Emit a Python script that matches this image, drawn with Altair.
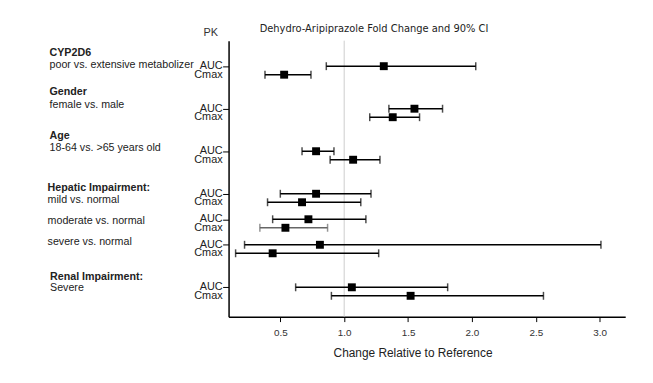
import altair as alt
import pandas as pd

# ---- data ----
comparisons = ["CYP2D6", "Gender", "Age", "Hepatic mild", "Hepatic moderate",
               "Hepatic severe", "Renal severe"]
auc_est = [1.31, 1.55, 0.78, 0.78, 0.72, 0.81, 1.06]
auc_lo = [0.86, 1.35, 0.67, 0.50, 0.44, 0.22, 0.62]
auc_hi = [2.03, 1.77, 0.92, 1.21, 1.17, 3.01, 1.81]
cmax_est = [0.53, 1.38, 1.07, 0.67, 0.54, 0.44, 1.52]
cmax_lo = [0.38, 1.20, 0.89, 0.40, 0.34, 0.15, 0.90]
cmax_hi = [0.74, 1.59, 1.28, 1.13, 0.87, 1.27, 2.56]

label_texts = ["CYP2D6", "poor vs. extensive metabolizer",
               "Gender", "female vs. male",
               "Age", "18-64 vs. >65 years old",
               "Hepatic Impairment:", "mild vs. normal",
               "moderate vs. normal", "severe vs. normal",
               "Renal Impairment:", "Severe"]
label_bold = [True, False, True, False, True, False, True, False, False, False, True, False]
x_ticks = [0.5, 1.0, 1.5, 2.0, 2.5, 3.0]

# ---- layout (row slots on the vertical axis) ----
auc_slot = [3, 8, 13, 18, 21, 24, 29]
label_slot = [1.40, 2.83, 6.06, 7.57, 11.22, 12.58, 17.27, 18.75, 21.17, 23.68, 27.8, 29.12]
label_px = [-181, -181, -181, -181, -181, -181, -183, -183, -183, -183, -180.5, -180.5]

rows = []
for i, c in enumerate(comparisons):
    rows.append(dict(comp=c, pk="AUC", slot=auc_slot[i], est=auc_est[i], lo=auc_lo[i], hi=auc_hi[i]))
    rows.append(dict(comp=c, pk="Cmax", slot=auc_slot[i] + 1, est=cmax_est[i], lo=cmax_lo[i], hi=cmax_hi[i]))
df = pd.DataFrame(rows)

labels = pd.DataFrame(dict(text=label_texts, slot=label_slot, bold=label_bold, px=label_px))

FONT = "Liberation Sans"
xscale = alt.Scale(domain=[0.095, 3.2], nice=False, zero=False)
yscale = alt.Scale(domain=[0, 32.45], reverse=True, nice=False, zero=False)

xaxis = alt.Axis(values=x_ticks, format=".1f", title="Change Relative to Reference",
                 grid=False, domainColor="black", domainWidth=1.5, tickColor="black",
                 tickSize=5, tickWidth=1, labelFont=FONT, labelFontSize=10, labelColor="#333",
                 labelPadding=6, titleFont=FONT, titleFontSize=12, titleFontWeight="normal",
                 titleColor="#222", titlePadding=10, titleX=186)
yaxis = alt.Axis(values=[float(s) for s in df["slot"]], labels=False, title=None, grid=False,
                 domainColor="black", domainWidth=1.5, tickColor="black", tickSize=6, tickWidth=1)

base = alt.Chart(df)
faint = "datum.comp == 'Hepatic moderate' && datum.pk == 'Cmax'"
line_color = alt.condition(faint, alt.value("#666666"), alt.value("black"))

refline = alt.Chart(pd.DataFrame({"v": [1.0]})).mark_rule(color="#cccccc", strokeWidth=1).encode(
    x=alt.X("v:Q", scale=xscale, axis=xaxis))

bars = base.mark_rule(strokeWidth=1.5).encode(
    x=alt.X("lo:Q", scale=xscale, axis=xaxis), x2="hi:Q",
    y=alt.Y("slot:Q", scale=yscale, axis=yaxis), color=line_color)

cap_lo = base.mark_tick(orient="vertical", size=8, thickness=1.5).encode(
    x=alt.X("lo:Q", scale=xscale), y=alt.Y("slot:Q", scale=yscale), color=line_color)
cap_hi = base.mark_tick(orient="vertical", size=8, thickness=1.5).encode(
    x=alt.X("hi:Q", scale=xscale), y=alt.Y("slot:Q", scale=yscale), color=line_color)

pts = base.mark_square(color="black", size=64, opacity=1).encode(
    x=alt.X("est:Q", scale=xscale), y=alt.Y("slot:Q", scale=yscale))

pk_labels = base.mark_text(align="right", baseline="middle", font=FONT, fontSize=11,
                           color="#222").encode(
    x=alt.value(-6), y=alt.Y("slot:Q", scale=yscale), text="pk:N")

lab_base = alt.Chart(labels)
grp_bold = lab_base.transform_filter("datum.bold").mark_text(
    align="left", baseline="middle", font=FONT, fontSize=10.8, fontWeight="bold",
    color="#222").encode(
    x=alt.X("px:Q", scale=None), y=alt.Y("slot:Q", scale=yscale), text="text:N")
grp_norm = lab_base.transform_filter("!datum.bold").mark_text(
    align="left", baseline="middle", font=FONT, fontSize=10.8, color="#222").encode(
    x=alt.X("px:Q", scale=None), y=alt.Y("slot:Q", scale=yscale), text="text:N")

title_df = pd.DataFrame({"t": ["Dehydro-Aripiprazole Fold Change and 90% CI"]})
title_txt = alt.Chart(title_df).mark_text(align="center", baseline="middle", font="DejaVu Sans",
                                          fontSize=10, color="#222").encode(
    x=alt.value(147), y=alt.value(-12), text="t:N")
pk_df = pd.DataFrame({"t": ["PK"]})
pk_txt = alt.Chart(pk_df).mark_text(align="center", baseline="middle", font=FONT,
                                    fontSize=11, color="#333").encode(
    x=alt.value(-18), y=alt.value(-8), text="t:N")

chart = alt.layer(refline, bars, cap_lo, cap_hi, pts, pk_labels, grp_bold, grp_norm,
                  title_txt, pk_txt).properties(
    width=401, height=279,
    autosize=alt.AutoSizeParams(type="none"),
    padding={"left": 223, "top": 31, "right": 20, "bottom": 60},
    background="white",
).configure_view(stroke=None)

chart.save("out.html", embed_options={"renderer": "svg", "actions": False})
